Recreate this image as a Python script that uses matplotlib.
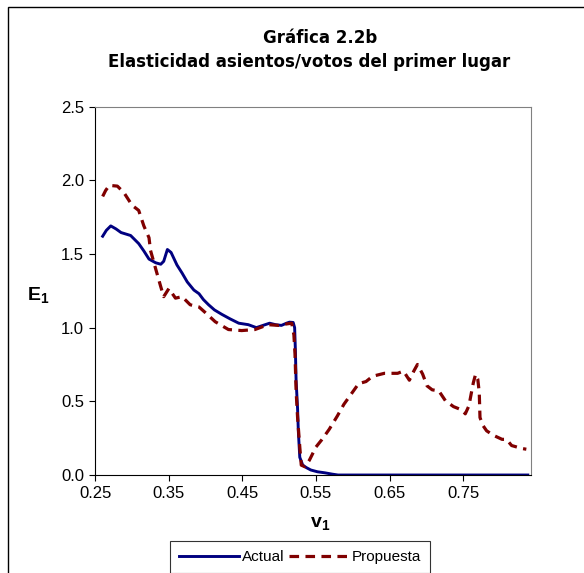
import matplotlib
matplotlib.use("Agg")
import matplotlib.pyplot as plt
from matplotlib.patches import Rectangle

plt.rcParams["font.family"] = ["Liberation Sans", "DejaVu Sans"]
plt.rcParams["mathtext.fontset"] = "custom"
plt.rcParams["mathtext.rm"] = "Liberation Sans"
plt.rcParams["mathtext.bf"] = "Liberation Sans:bold"

# ==========================================
# Data
# ==========================================

v1_actual = [0.260, 0.265, 0.271, 0.278, 0.285, 0.298, 0.309, 0.316, 0.323, 0.332,
             0.339, 0.343, 0.348, 0.353, 0.361, 0.368, 0.375, 0.384, 0.391, 0.397,
             0.404, 0.412, 0.422, 0.433, 0.445, 0.458, 0.469, 0.478, 0.487, 0.495,
             0.503, 0.510, 0.514, 0.519, 0.521, 0.522, 0.523, 0.525, 0.526, 0.528,
             0.532, 0.537, 0.543, 0.552, 0.562, 0.572, 0.580, 0.600, 0.650, 0.700,
             0.750, 0.800, 0.838]
e1_actual = [1.62, 1.66, 1.69, 1.67, 1.645, 1.625, 1.57, 1.52, 1.465, 1.44,
             1.43, 1.45, 1.53, 1.51, 1.425, 1.37, 1.31, 1.255, 1.23, 1.19,
             1.155, 1.12, 1.09, 1.06, 1.03, 1.02, 1.00, 1.015, 1.03, 1.02,
             1.015, 1.03, 1.037, 1.035, 1.00, 0.85, 0.64, 0.45, 0.30, 0.12,
             0.067, 0.05, 0.034, 0.022, 0.015, 0.006, 0.0, 0.0, 0.0, 0.0,
             0.0, 0.0, 0.0]

v1_prop = [0.260, 0.264, 0.269, 0.280, 0.289, 0.300, 0.309, 0.316, 0.323, 0.325,
           0.332, 0.339, 0.343, 0.350, 0.359, 0.368, 0.379, 0.391, 0.400, 0.413,
           0.431, 0.449, 0.467, 0.485, 0.499, 0.510, 0.517, 0.520, 0.5215, 0.523,
           0.525, 0.528, 0.530, 0.535, 0.541, 0.550, 0.558, 0.568, 0.579, 0.588,
           0.598, 0.608, 0.618, 0.627, 0.643, 0.661, 0.669, 0.677, 0.683, 0.688,
           0.695, 0.701, 0.708, 0.717, 0.726, 0.737, 0.749, 0.753, 0.758, 0.761,
           0.764, 0.767, 0.770, 0.772, 0.773, 0.777, 0.782, 0.791, 0.803, 0.809,
           0.816, 0.830, 0.836]
e1_prop = [1.89, 1.93, 1.965, 1.96, 1.915, 1.83, 1.795, 1.69, 1.61, 1.525,
           1.40, 1.277, 1.21, 1.265, 1.20, 1.21, 1.155, 1.14, 1.10, 1.04,
           0.987, 0.98, 0.987, 1.02, 1.015, 1.025, 1.03, 0.95, 0.82, 0.57,
           0.39, 0.19, 0.067, 0.056, 0.10, 0.19, 0.24, 0.31, 0.40, 0.48,
           0.55, 0.62, 0.634, 0.67, 0.69, 0.69, 0.705, 0.643, 0.705, 0.75,
           0.685, 0.605, 0.578, 0.571, 0.504, 0.464, 0.44, 0.415, 0.47, 0.55,
           0.627, 0.683, 0.65, 0.56, 0.39, 0.336, 0.30, 0.27, 0.242, 0.242,
           0.20, 0.18, 0.175]

x_ticks = [0.25, 0.35, 0.45, 0.55, 0.65, 0.75]
y_ticks = [0.0, 0.5, 1.0, 1.5, 2.0, 2.5]

# ==========================================
# Figure
# ==========================================

fig = plt.figure(figsize=(5.84, 5.73), dpi=100)
ax = fig.add_axes([0.1632, 0.171, 0.7456, 0.6431])

ax.plot(v1_actual, e1_actual, color="#000080", linewidth=2.1, label="Actual")
ax.plot(v1_prop, e1_prop, color="#800000", linewidth=2.3,
        linestyle=(0, (3, 2)), label="Propuesta")

ax.set_xlim(0.25, 0.842)
ax.set_ylim(0, 2.5)
ax.set_xticks(x_ticks)
ax.set_xticklabels([f"{t:.2f}" for t in x_ticks])
ax.set_yticks(y_ticks)
ax.set_yticklabels([f"{t:.1f}" for t in y_ticks])
ax.tick_params(direction="out", length=4, width=0.8, labelsize=12, pad=4)

ax.spines["top"].set_color("#808080")
ax.spines["right"].set_color("#808080")
ax.spines["left"].set_color("black")
ax.spines["bottom"].set_color("black")

# titles and axis labels
fig.text(320 / 584, 1 - 38 / 573, "Gráfica 2.2b", ha="center", va="center",
         fontsize=12, fontweight="bold", family="DejaVu Sans")
fig.text(309 / 584, 1 - 62 / 573, "Elasticidad asientos/votos del primer lugar",
         ha="center", va="center", fontsize=12, fontweight="bold",
         family="DejaVu Sans")
fig.text(38 / 584, 1 - 295 / 573, r"$\mathbf{E_1}$", ha="center", va="center",
         fontsize=14)
fig.text(320 / 584, 1 - 523 / 573, r"$\mathbf{v_1}$", ha="center", va="center",
         fontsize=14)

leg = fig.legend(loc="upper left", bbox_to_anchor=(170 / 584, 1 - 541 / 573),
                 ncol=2, fontsize=11, frameon=True, fancybox=False,
                 edgecolor="black", borderpad=0.6, handlelength=3.9,
                 handletextpad=0.2, columnspacing=0.3, borderaxespad=0)
leg.get_frame().set_linewidth(0.8)

# outer chart border
fig.patches.append(Rectangle((8 / 584, -0.1), 1.2, 1.1 - 7 / 573,
                             transform=fig.transFigure, fill=False,
                             edgecolor="black", linewidth=1.0))

fig.savefig("out.png", dpi=100)
